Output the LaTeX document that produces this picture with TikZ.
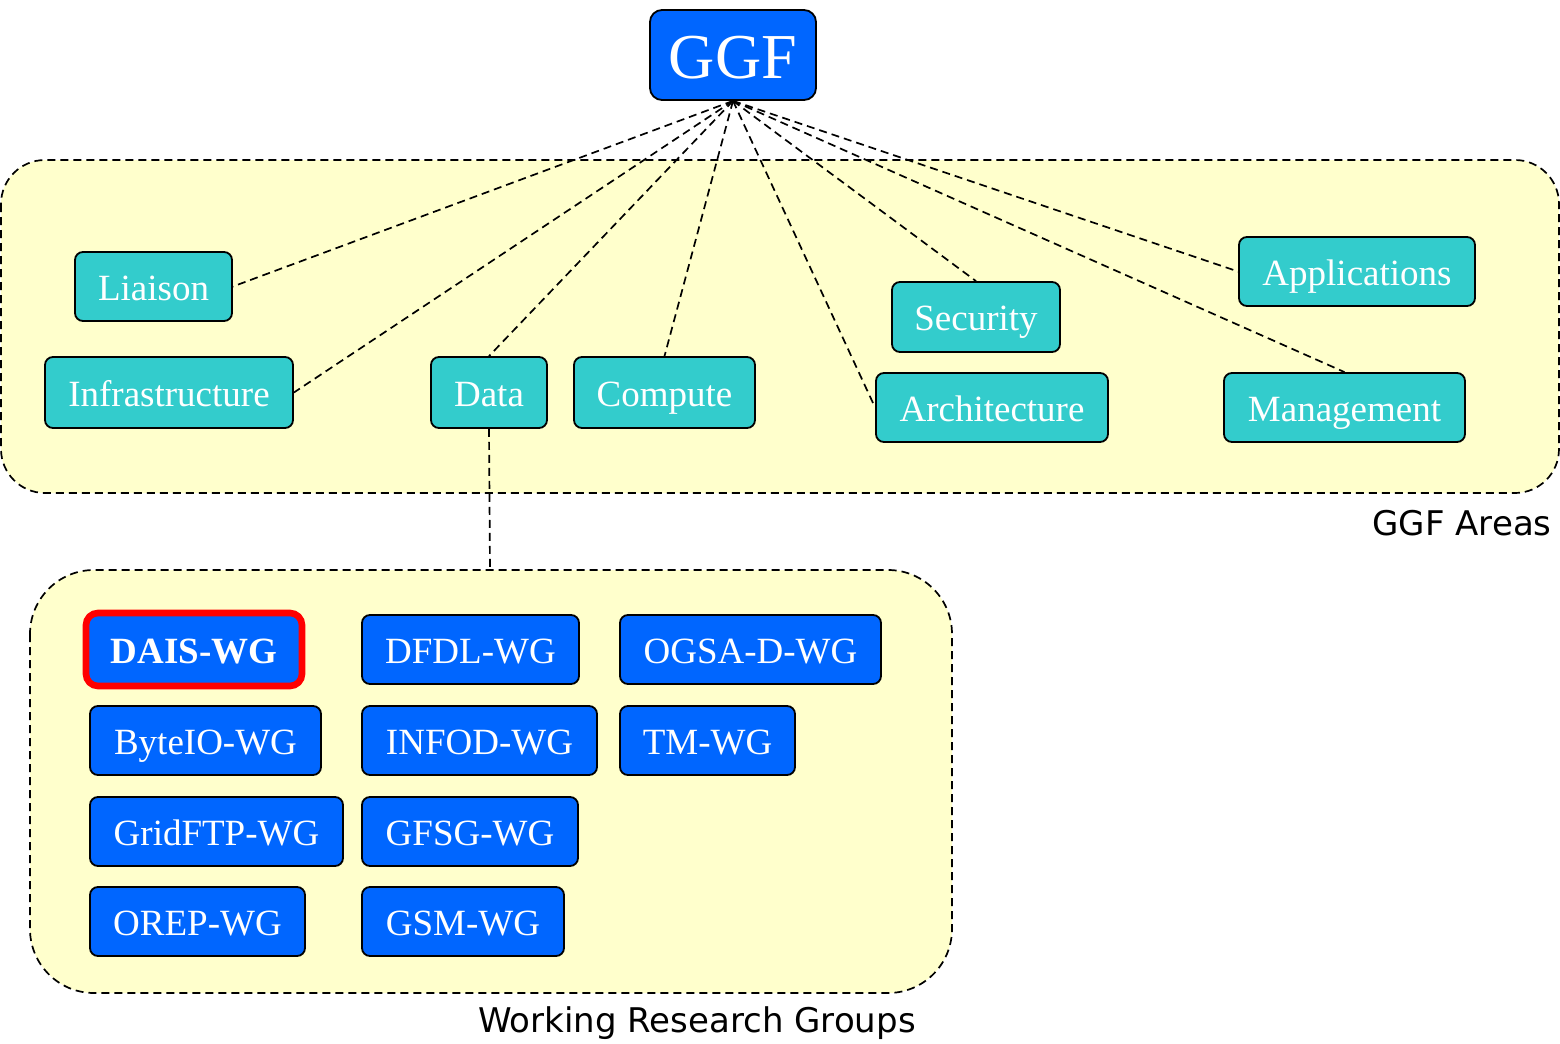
\documentclass[tikz,border=0pt]{standalone}
\usepackage{fontspec}
\setmainfont{Liberation Serif}
\newfontfamily\labelfont{DejaVu Sans}
\definecolor{ggfblue}{RGB}{0,102,255}
\definecolor{areateal}{RGB}{51,204,204}
\definecolor{paleyellow}{RGB}{255,255,204}
\definecolor{hired}{RGB}{255,0,0}
\begin{document}
\begin{tikzpicture}[x=0.5pt,y=-0.5pt,
  basebox/.style={draw=black, line width=0.9pt, rounded corners=4pt, text=white, inner sep=0pt, text height=13.5pt, text depth=0pt, font=\fontsize{18.5}{20}\selectfont},
  areabox/.style={basebox, fill=areateal},
  wgbox/.style={basebox, fill=ggfblue},
  region/.style={draw=black, line width=0.85pt, dash pattern=on 4pt off 2.5pt, fill=paleyellow},
  link/.style={draw=black, line width=0.85pt, dash pattern=on 4pt off 2.5pt},
  caption/.style={font=\labelfont\fontsize{17}{19}\selectfont, text=black, inner sep=0pt}
]
\useasboundingbox (0,0) rectangle (1560,1044);
\fill[white] (0,0) rectangle (1560,1044);

% regions
\path[region, rounded corners=22pt] (1,160) rectangle (1559,493);
\path[region, rounded corners=32pt] (30,570) rectangle (952,993);

% GGF
\node[wgbox, font=\fontsize{32}{34}\selectfont, text height=23pt, rounded corners=6pt, minimum width=83pt, minimum height=45pt] (ggf) at (733,55) {GGF};

% areas
\node[areabox, minimum width=78.5pt, minimum height=34.5pt] (liaison) at (153.5,286.5) {Liaison};
\node[areabox, minimum width=124pt, minimum height=35.5pt] (infra) at (169,392.5) {Infrastructure};
\node[areabox, minimum width=58pt, minimum height=35.5pt] (data) at (489,392.5) {Data};
\node[areabox, minimum width=90.5pt, minimum height=35.5pt] (compute) at (664.5,392.5) {Compute};
\node[areabox, minimum width=84pt, minimum height=35pt] (security) at (976,317) {Security};
\node[areabox, minimum width=116pt, minimum height=34.5pt] (arch) at (992,407.5) {Architecture};
\node[areabox, minimum width=118pt, minimum height=34.5pt] (apps) at (1357,271.5) {Applications};
\node[areabox, minimum width=120.5pt, minimum height=34.5pt] (mgmt) at (1344.5,407.5) {Management};

\node[caption, anchor=east] (areascap) at (1552,523) {GGF Areas};

% connectors from GGF
\draw[link] (ggf.south) -- (liaison.east);
\draw[link] (ggf.south) -- (infra.east);
\draw[link] (ggf.south) -- (data.north);
\draw[link] (ggf.south) -- (compute.north);
\draw[link] (ggf.south) -- (arch.west);
\draw[link] (ggf.south) -- (security.north);
\draw[link] (ggf.south) -- (mgmt.north);
\draw[link] (ggf.south) -- (apps.west);

% data to WG region
\coordinate (wgtop) at (490,570);
\draw[link] (data.south) -- (wgtop);

% working groups
\node[wgbox, draw=hired, line width=3.3pt, rounded corners=6pt, font=\fontsize{18.5}{20}\selectfont\bfseries, minimum width=108pt, minimum height=36.5pt] (dais) at (194,649.5) {DAIS-WG};
\node[wgbox, minimum width=108.5pt, minimum height=34.5pt] (dfdl) at (470.5,649.5) {DFDL-WG};
\node[wgbox, minimum width=130.5pt, minimum height=34.5pt] (ogsad) at (750.5,649.5) {OGSA-D-WG};
\node[wgbox, minimum width=115.5pt, minimum height=34.5pt] (byteio) at (205.5,740.5) {ByteIO-WG};
\node[wgbox, minimum width=117.5pt, minimum height=34.5pt] (infod) at (479.5,740.5) {INFOD-WG};
\node[wgbox, minimum width=87.5pt, minimum height=34.5pt] (tm) at (707.5,740.5) {TM-WG};
\node[wgbox, minimum width=126.5pt, minimum height=34.5pt] (gridftp) at (216.5,831.5) {GridFTP-WG};
\node[wgbox, minimum width=108pt, minimum height=34.5pt] (gfsg) at (470,831.5) {GFSG-WG};
\node[wgbox, minimum width=107.5pt, minimum height=34.5pt] (orep) at (197.5,921.5) {OREP-WG};
\node[wgbox, minimum width=101pt, minimum height=34.5pt] (gsm) at (463,921.5) {GSM-WG};

\node[caption] (wgcap) at (697,1023) {Working Research Groups};
\end{tikzpicture}
\end{document}
